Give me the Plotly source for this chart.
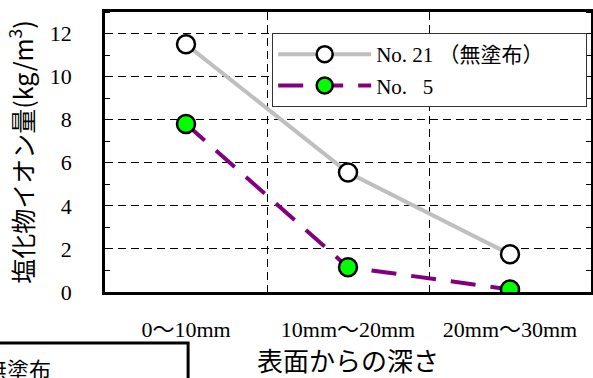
import plotly.graph_objects as go

# データ
depth = ['0～10mm', '10mm～20mm', '20mm～30mm']
no21 = [11.5, 5.55, 1.75]
no5 = [7.8, 1.15, 0.12]
name21 = 'No.\u00a021\u00a0（無塗布）' + '\u00a0' * 7
name5 = 'No.\u00a0\u00a0\u00a05'

FONT = 'Liberation Serif, Noto Sans CJK JP, serif'
JFONT = 'Noto Sans CJK JP, Liberation Serif, serif'

fig = go.Figure()
fig.add_trace(go.Scatter(
    x=depth, y=no21, name=name21, legendgroup='a', mode='lines+markers',
    line=dict(color='#bfbfbf', width=4),
    marker=dict(symbol='circle', size=18, color='white',
                line=dict(color='black', width=2.5))))
fig.add_trace(go.Scatter(
    x=depth, y=no5, name=name5, legendgroup='b', mode='lines+markers',
    line=dict(color='#800080', width=4, dash='25px,15px'),
    marker=dict(symbol='circle', size=18, color='#00ff00',
                line=dict(color='black', width=2.5))))

fig.update_xaxes(
    type='category', range=[-0.5, 2.5], tickson='boundaries', automargin=False,
    ticks='inside', ticklen=5, tickcolor='black', tickwidth=1,
    showgrid=True, gridcolor='black', griddash='8px,5px', gridwidth=1,
    showline=True, linecolor='black', linewidth=2.5, mirror='ticks',
    tickfont=dict(family=FONT, size=22, color='black'),
    ticklabelstandoff=16,
    title=dict(text='表面からの深さ', standoff=12,
               font=dict(family=JFONT, size=26, color='black')))
fig.update_yaxes(
    range=[0, 13], dtick=2, tick0=0, automargin=False,
    ticks='', showgrid=True, gridcolor='black', griddash='8px,5px', gridwidth=1,
    minor=dict(dtick=1, ticks='inside', ticklen=5, tickcolor='black', showgrid=False),
    showline=True, linecolor='black', linewidth=2.5, mirror='ticks',
    zeroline=False,
    tickfont=dict(family=FONT, size=22, color='black'),
    ticklabelstandoff=26,
    title=dict(text='塩化物イオン量(kg/m<sup>3</sup>)', standoff=10,
               font=dict(family=JFONT, size=25, color='black')))

# 左下の枠（切れている）
fig.add_shape(type='rect', xref='paper', yref='paper',
              x0=-0.3, x1=0.171, y0=-0.5, y1=-0.182,
              line=dict(color='black', width=3), fillcolor='rgba(0,0,0,0)')
fig.add_annotation(text='無塗布', xref='paper', yref='paper',
                   x=-0.107, y=-0.272, xanchor='right', yanchor='middle',
                   showarrow=False, font=dict(family=JFONT, size=22, color='black'))

fig.update_layout(
    width=593, height=378, autosize=False,
    margin=dict(l=105, r=2, t=12, b=86),
    plot_bgcolor='white', paper_bgcolor='white',
    font=dict(family=FONT, color='black'),
    legend=dict(x=0.344, y=0.925, xanchor='left', yanchor='top',
                bgcolor='white', bordercolor='#333333', borderwidth=1,
                font=dict(family=FONT, size=21, color='black'),
                itemwidth=93, tracegroupgap=1),
)

fig.write_html('out.html', config={'displayModeBar': False, 'responsive': False},
               post_script="document.body.style.margin='0';")
